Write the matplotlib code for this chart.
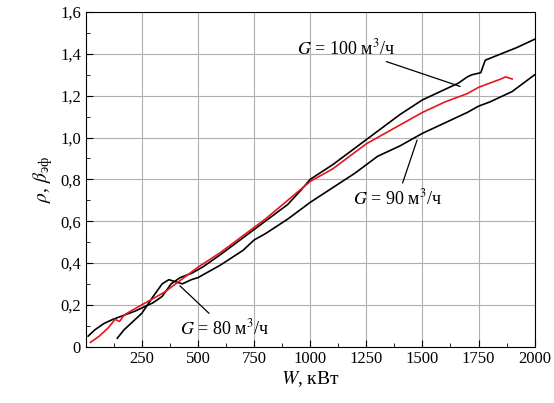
import matplotlib
matplotlib.use("Agg")
import matplotlib.pyplot as plt
from matplotlib.ticker import MultipleLocator, FuncFormatter

plt.rcParams["font.family"] = ["Liberation Serif", "DejaVu Serif"]
plt.rcParams["mathtext.fontset"] = "stix"

# G = 100 m3/h (upper black)
w_a = [10, 40, 80, 120, 170, 220, 260, 300, 340, 380, 420, 470, 520, 600, 700, 800,
       900, 960, 1000, 1100, 1200, 1300, 1400, 1500, 1600, 1660, 1700, 1720, 1760,
       1780, 1850, 1920, 2000]
r_a = [0.05, 0.08, 0.11, 0.13, 0.15, 0.17, 0.19, 0.21, 0.24, 0.30, 0.33, 0.35, 0.38,
       0.44, 0.52, 0.60, 0.68, 0.75, 0.80, 0.87, 0.95, 1.03, 1.11, 1.18, 1.23, 1.26,
       1.29, 1.30, 1.31, 1.37, 1.40, 1.43, 1.47]
# red curve
w_r = [20, 60, 100, 130, 150, 170, 200, 250, 300, 350, 400, 450, 500, 600, 700, 800,
       900, 1000, 1100, 1200, 1250, 1300, 1400, 1500, 1600, 1700, 1750, 1800, 1850,
       1870, 1900]
r_r = [0.02, 0.05, 0.09, 0.13, 0.12, 0.15, 0.17, 0.20, 0.23, 0.26, 0.30, 0.34, 0.38,
       0.45, 0.53, 0.61, 0.70, 0.79, 0.85, 0.93, 0.97, 1.00, 1.06, 1.12, 1.17, 1.21,
       1.24, 1.26, 1.28, 1.29, 1.28]
# G = 90 m3/h (lower black)
w_b = [140, 170, 200, 250, 300, 340, 370, 400, 430, 470, 500, 550, 600, 700, 750, 800,
       900, 1000, 1100, 1200, 1250, 1300, 1400, 1500, 1600, 1700, 1750, 1800, 1900,
       1950, 2000]
r_b = [0.04, 0.08, 0.11, 0.16, 0.24, 0.30, 0.32, 0.31, 0.30, 0.32, 0.33, 0.36, 0.39,
       0.46, 0.51, 0.54, 0.61, 0.69, 0.76, 0.83, 0.87, 0.91, 0.96, 1.02, 1.07, 1.12,
       1.15, 1.17, 1.22, 1.26, 1.30]

fig, ax = plt.subplots(figsize=(5.54, 4.03), dpi=100)
fig.subplots_adjust(left=0.155, right=0.965, bottom=0.14, top=0.97)

ax.grid(True, color="#b0b0b0", lw=0.8)
ax.set_axisbelow(True)
ax.plot(w_a, r_a, color="black", lw=1.2)
ax.plot(w_b, r_b, color="black", lw=1.2)
ax.plot(w_r, r_r, color="#e8141c", lw=1.2)

ax.set_xlim(0, 2000)
ax.set_ylim(0, 1.6)
ax.set_xticks([250, 500, 750, 1000, 1250, 1500, 1750, 2000])
ax.xaxis.set_minor_locator(MultipleLocator(125))
ax.yaxis.set_major_locator(MultipleLocator(0.2))
ax.yaxis.set_minor_locator(MultipleLocator(0.1))
ax.yaxis.set_major_formatter(FuncFormatter(lambda v, p: "0" if abs(v) < 1e-9 else f"{v:.1f}".replace(".", ",")))
ax.tick_params(which="both", direction="in", labelsize=12)
ax.tick_params(which="major", length=5)
ax.tick_params(which="minor", length=3)

ax.set_xlabel(r"$W$, кВт", fontsize=14, labelpad=1)
ax.set_ylabel(r"$\rho$, $\beta_{\mathrm{эф}}$", fontsize=14)

kw = dict(fontsize=13, arrowprops=dict(arrowstyle="-", color="black", lw=0.9))
ax.annotate(r"$G$ = 100 м$^3$/ч", xy=(1680, 1.24), xytext=(940, 1.40), **kw)
ax.annotate(r"$G$ = 90 м$^3$/ч", xy=(1480, 1.0), xytext=(1190, 0.68), **kw)
ax.annotate(r"$G$ = 80 м$^3$/ч", xy=(410, 0.30), xytext=(420, 0.06), **kw)

fig.savefig("out.png", dpi=100)
